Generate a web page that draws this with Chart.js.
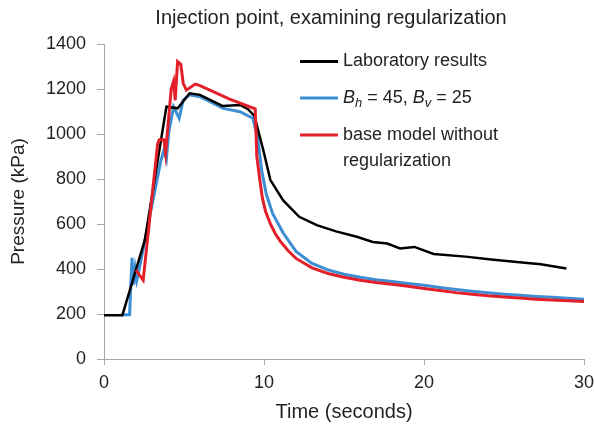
<!DOCTYPE html>
<html>
<head>
  <title>Injection point</title>
  <script src="https://cdn.jsdelivr.net/npm/chart.js@4"></script>
  <style>
    body {
      margin: 0;
      background: #fff;
    }
    #wrap {
      width: 594px;
      height: 428px;
    }
  </style>
</head>
<body>
  <div id="wrap"><canvas id="injection-pressure"></canvas></div>

  <script>
    // laboratory measurement (s, kPa)
    let labTime = [0, 1.15, 2.55, 3.9, 4.6, 5.35, 6.0, 7.4, 8.5, 9.0, 9.4, 9.95, 10.4, 11.2, 12.2, 13.3, 14.5, 15.8, 16.8, 17.7, 18.5, 19.4, 20.6, 22.6, 24.2, 25.8, 27.3, 28.9]
    let labPressure = [195, 195, 528, 1121, 1114, 1181, 1174, 1125, 1129, 1110, 1080, 930, 795, 705, 632, 595, 567, 543, 520, 513, 491, 498, 467, 455, 442, 431, 421, 402]

    // regularized model, Bh = 45, Bv = 25
    let regTime = [1.1, 1.6, 1.75, 1.85, 1.95, 2.05, 2.2, 3.55, 3.75, 3.9, 4.05, 4.35, 4.7, 4.95, 5.35, 6.0, 7.45, 8.5, 9.3, 9.6, 9.85, 10.15, 10.55, 11.2, 12.0, 13.0, 14.0, 15.0, 16.0, 17.0, 18.0, 19.0, 20.0, 21.0, 22.0, 23.0, 24.0, 25.0, 26.0, 27.0, 28.0, 29.0, 30.0]
    let regPressure = [197, 197, 450, 330, 400, 350, 400, 880, 930, 890, 1010, 1121, 1070, 1151, 1174, 1166, 1114, 1099, 1070, 985, 840, 730, 645, 560, 478, 425, 396, 377, 363, 352, 344, 336, 328, 318, 309, 301, 294, 288, 283, 278, 274, 270, 266]

    // base model without regularization
    let baseTime = [2.0, 2.45, 3.35, 3.45, 3.75, 3.85, 4.2, 4.35, 4.45, 4.6, 4.8, 4.95, 5.15, 5.7, 6.0, 7.85, 9.45, 9.55, 9.75, 9.9, 10.1, 10.4, 10.7, 11.0, 11.5, 12.0, 13.0, 14.0, 15.0, 16.0, 17.0, 18.0, 19.0, 20.0, 21.0, 22.0, 23.0, 24.0, 25.0, 26.0, 27.0, 28.0, 29.0, 30.0]
    let basePressure = [395, 350, 955, 975, 975, 915, 1200, 1235, 1150, 1322, 1310, 1225, 1195, 1222, 1215, 1155, 1112, 900, 790, 715, 655, 600, 558, 525, 482, 447, 405, 380, 363, 350, 340, 332, 323, 313, 304, 295, 288, 281, 276, 271, 266, 262, 259, 256]

    let timeTicks = [0, 10, 20, 30]
    let pressureTicks = [0, 200, 400, 600, 800, 1000, 1200, 1400]

    const textColor = '#231f20'
    const axisColor = '#a8a8a8'
    const labColor = '#000000'
    const regColor = '#3d8ed2'
    const baseColor = '#e3202a'
    const family = '"Liberation Sans", Arial, sans-serif'

    Chart.defaults.font.family = family

    function points(xs, ys) {
      return xs.map((x, i) => ({ x: x, y: ys[i] }))
    }

    // title and legend are drawn by hand: the title sits off-centre,
    // the legend sits inside the plot, top right
    const annotations = {
      id: 'annotations',
      afterDraw(chart) {
        const ctx = chart.ctx
        const a = chart.chartArea
        const x0 = a.left + 196
        const x1 = x0 + 38
        const tx = x1 + 5
        const rows = [61.5, 98, 135]
        const colors = [labColor, regColor, baseColor]

        ctx.save()
        ctx.fillStyle = textColor
        ctx.textBaseline = 'middle'
        ctx.textAlign = 'center'
        ctx.font = '20px ' + family
        ctx.fillText('Injection point, examining regularization', 331, 18)

        ctx.lineWidth = 3
        rows.forEach((y, i) => {
          ctx.strokeStyle = colors[i]
          ctx.beginPath()
          ctx.moveTo(x0, y)
          ctx.lineTo(x1, y)
          ctx.stroke()
        })

        ctx.textAlign = 'left'
        const body = '18px ' + family
        ctx.font = body
        ctx.fillText('Laboratory results', tx, rows[0])
        ctx.fillText('base model without', tx, rows[2])
        ctx.fillText('regularization', tx, rows[2] + 26)

        // B_h = 45, B_v = 25 with italic symbols and subscripts
        const parts = [
          ['B', 'italic 18px ' + family, 0],
          ['h', 'italic 13px ' + family, 5],
          [' = 45, ', body, 0],
          ['B', 'italic 18px ' + family, 0],
          ['v', 'italic 13px ' + family, 5],
          [' = 25', body, 0]
        ]
        let x = tx
        parts.forEach(p => {
          ctx.font = p[1]
          ctx.fillText(p[0], x, rows[1] + p[2])
          x += ctx.measureText(p[0]).width
        })
        ctx.restore()
      }
    }

    new Chart(document.getElementById('injection-pressure').getContext('2d'), {
      type: 'line',
      data: {
        datasets: [{
          label: 'base model without regularization',
          data: points(baseTime, basePressure),
          borderColor: baseColor,
          order: 0
        }, {
          label: 'Laboratory results',
          data: points(labTime, labPressure),
          borderColor: labColor,
          borderWidth: 2.5,
          order: 1
        }, {
          label: 'Bh = 45, Bv = 25',
          data: points(regTime, regPressure),
          borderColor: regColor,
          order: 2
        }]
      },
      options: {
        responsive: true,
        maintainAspectRatio: false,
        animation: false,
        layout: {
          padding: { top: 44, right: 0 }
        },
        elements: {
          point: { radius: 0 },
          line: { borderWidth: 3, tension: 0, fill: false }
        },
        plugins: {
          legend: { display: false },
          tooltip: { enabled: false },
          title: { display: false }
        },
        scales: {
          x: {
            type: 'linear',
            min: timeTicks[0],
            max: timeTicks[timeTicks.length - 1],
            ticks: {
              stepSize: timeTicks[1] - timeTicks[0],
              color: textColor,
              font: { size: 18 },
              padding: 7,
              callback: v => String(v)
            },
            grid: { drawOnChartArea: false, color: axisColor, tickLength: 6 },
            border: { color: axisColor },
            title: {
              display: true,
              text: 'Time (seconds)',
              color: textColor,
              font: { size: 20 },
              padding: { top: 0, bottom: 4 }
            },
            afterFit: s => {
              s.height = 69
              s.paddingLeft = 0
              s.paddingRight = 10
            }
          },
          y: {
            min: pressureTicks[0],
            max: pressureTicks[pressureTicks.length - 1],
            ticks: {
              stepSize: pressureTicks[1] - pressureTicks[0],
              color: textColor,
              font: { size: 18 },
              padding: 11,
              callback: v => String(v)
            },
            grid: { drawOnChartArea: false, color: axisColor, tickLength: 7 },
            border: { color: axisColor },
            title: {
              display: true,
              text: 'Pressure (kPa)',
              color: textColor,
              font: { size: 19 },
              padding: { top: 7, bottom: 0 }
            },
            afterFit: s => { s.width = 104 }
          }
        }
      },
      plugins: [annotations]
    })
  </script>
</body>
</html>
